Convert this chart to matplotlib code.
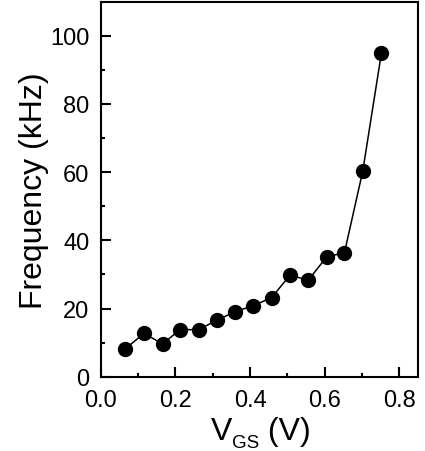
import matplotlib
matplotlib.use("Agg")
import matplotlib.pyplot as plt
from matplotlib.ticker import MultipleLocator

# Data
vgs = [0.065, 0.116, 0.166, 0.212, 0.262, 0.312, 0.361, 0.408,
       0.458, 0.507, 0.556, 0.605, 0.653, 0.702, 0.752]
freq = [8.1, 12.7, 9.6, 13.8, 13.8, 16.6, 19.1, 20.8,
        23.2, 29.8, 28.3, 35.1, 36.4, 60.3, 94.9]

plt.rcParams['font.family'] = ['Liberation Sans', 'DejaVu Sans']

fig = plt.figure(figsize=(4.25, 4.52), dpi=100)
ax = fig.add_axes([0.237, 0.1644, 0.7465, 0.8296])

ax.plot(vgs, freq, '-o', color='black', lw=1.1, markersize=10)

ax.set_xlim(0, 0.85)
ax.set_ylim(0, 110)
ax.xaxis.set_major_locator(MultipleLocator(0.2))
ax.xaxis.set_minor_locator(MultipleLocator(0.1))
ax.yaxis.set_major_locator(MultipleLocator(20))
ax.yaxis.set_minor_locator(MultipleLocator(10))
ax.set_xticks([0.0, 0.2, 0.4, 0.6, 0.8])
ax.set_xticklabels(['0.0', '0.2', '0.4', '0.6', '0.8'])

for side in ax.spines.values():
    side.set_linewidth(1.5)

ax.tick_params(which='both', direction='in', top=False, right=False,
               width=1.5, labelsize=17)
ax.tick_params(which='major', length=7)
ax.tick_params(which='minor', length=3)
ax.tick_params(axis='x', pad=9)
ax.tick_params(axis='y', pad=8)

ax.set_ylabel('Frequency (kHz)', fontsize=23, labelpad=1)

# x label built from pieces so the subscript is small and low
t_v = fig.text(0.496, 0.0275, 'V', fontsize=23, ha='left', va='baseline')
t_gs = ax.annotate('GS', xy=(1, 0), xycoords=t_v, xytext=(0, -0.9),
                   textcoords='offset points', fontsize=13.5,
                   ha='left', va='baseline')
ax.annotate(' (V)', xy=(1, 0), xycoords=(t_gs, t_v), xytext=(0, 0),
            textcoords='offset points', fontsize=23,
            ha='left', va='bottom')

fig.savefig('out.png', dpi=100)
